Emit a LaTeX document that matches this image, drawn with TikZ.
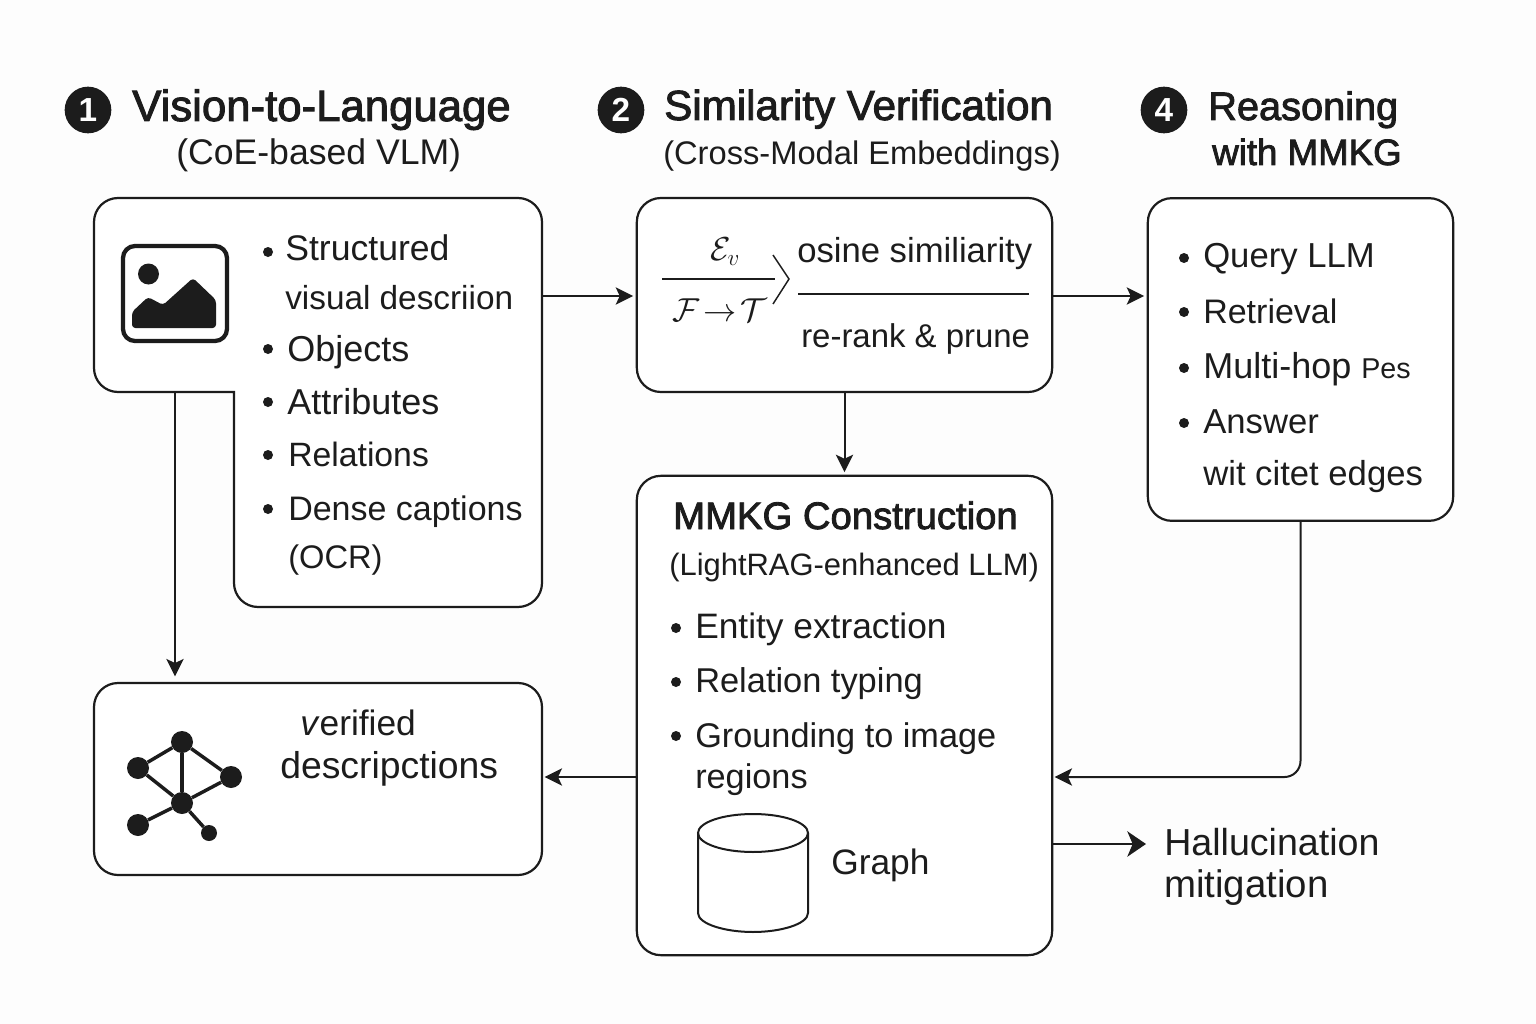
\documentclass[tikz,border=0pt]{standalone}
\usepackage{amsmath}
\usepackage{amssymb}
\usepackage{fontspec}
\setmainfont{Liberation Sans}
\newfontfamily\headfont[FakeBold=2.2]{Liberation Sans}
\usetikzlibrary{arrows.meta}
\definecolor{inkcol}{HTML}{1C1C1C}
\definecolor{pagecol}{HTML}{FDFDFD}

\begin{document}
\begin{tikzpicture}[x=0.75pt,y=0.75pt,yscale=-1,
	boxnode/.style={draw=inkcol,line width=1.65pt,fill=white,rounded corners=18pt,inner sep=0pt},
	flow/.style={draw=inkcol,line width=1.5pt,-{Stealth[length=13pt,width=13pt,inset=3pt]},shorten >=2pt},
	stepdot/.style={circle,fill=inkcol,inner sep=0pt,minimum size=35pt,text=white,font=\bfseries\fontsize{25}{25}\selectfont},
	headtext/.style={anchor=base west,inner sep=0pt,text=inkcol,font=\headfont\fontsize{31.6}{36}\selectfont},
	subtext/.style={anchor=base west,inner sep=0pt,text=inkcol,font=\fontsize{26}{30}\selectfont},
	itemtext/.style={anchor=base west,inner sep=0pt,text=inkcol,font=\fontsize{26}{30}\selectfont},
	bulletdot/.style={circle,fill=inkcol,inner sep=0pt,minimum size=7.5pt},
	graphdot/.style={circle,fill=inkcol,inner sep=0pt,minimum size=16.5pt},
	graphedge/.style={draw=inkcol,line width=2.6pt},
	]
	\useasboundingbox (0,0) rectangle (1536,1024);
	\fill[pagecol] (0,0) rectangle (1536,1024);

	%Headings
	\node[stepdot] (numa) at (88,110) {1};
	\node[headtext,font=\headfont\fontsize{32.8}{36}\selectfont] (heada) at (132,121) {Vision-to-Language};
	\node[subtext,font=\fontsize{26.7}{30}\selectfont] (suba) at (176,165) {(CoE-based VLM)};
	\node[stepdot] (numb) at (621,110) {2};
	\node[headtext] (headb) at (664,120) {Similarity Verification};
	\node[subtext,font=\fontsize{24.5}{30}\selectfont] (subb) at (663,165) {(Cross-Modal Embeddings)};
	\node[stepdot] (numd) at (1164,110) {4};
	\node[headtext,font=\headfont\fontsize{29.8}{36}\selectfont] (headd) at (1208,120) {Reasoning};
	\node[headtext,font=\headfont\fontsize{27.5}{36}\selectfont] (subd) at (1212,165) {with MMKG};

	%Shape: L-shaped box
	\draw[draw=inkcol,line width=1.65pt,fill=white,rounded corners=18pt] (320,198) -- (542,198) -- (542,607) -- (234,607) [sharp corners] -- (234,392) [rounded corners=18pt] -- (94,392) -- (94,198) -- cycle;
	\coordinate (boxaout) at (542,296);
	\coordinate (boxadown) at (175,392);
	%Image icon
	\draw[draw=inkcol,line width=3.2pt,rounded corners=9pt] (123,246) rectangle (227,341);
	\fill[inkcol] (148.5,274) circle (10.5);
	\fill[inkcol,rounded corners=2.5pt] (132,312) -- (148,297) -- (163,305) -- (193,278) -- (216,300) -- (216,328) -- (132,328) -- cycle;
	\node[bulletdot] (dota) at (268,252) {};
	\node[itemtext,font=\fontsize{26.7}{30}\selectfont] (texta) at (285,260) {Structured};
	\node[itemtext,font=\fontsize{25}{30}\selectfont] (textb) at (285,309) {visual descriion};
	\node[bulletdot] (dotb) at (268,349) {};
	\node[itemtext,font=\fontsize{27}{30}\selectfont] (textc) at (287,361) {Objects};
	\node[bulletdot] (dotc) at (268,402) {};
	\node[itemtext,font=\fontsize{27}{30}\selectfont] (textd) at (287,414) {Attributes};
	\node[bulletdot] (dotd) at (268,455) {};
	\node[itemtext,font=\fontsize{25.3}{30}\selectfont] (texte) at (288,466) {Relations};
	\node[bulletdot] (dote) at (268,509) {};
	\node[itemtext,font=\fontsize{25.5}{30}\selectfont] (textf) at (288,520) {Dense captions};
	\node[itemtext,font=\fontsize{24.5}{30}\selectfont] (textg) at (288,568) {(OCR)};

	%Similarity box
	\node[boxnode,minimum width=311.5pt,minimum height=145.5pt] (boxb) at (844.5,295) {};
	\node[inner sep=0pt,text=inkcol,font=\fontsize{26}{30}\selectfont] (enc) at (725,252) {$\mathcal{E}_v$};
	\coordinate (ruleal) at (662,279);
	\coordinate (ruleat) at (775,279);
	\draw[draw=inkcol,line width=1.1pt] (ruleal) -- (ruleat);
	\node[inner sep=0pt,text=inkcol,font=\fontsize{23}{30}\selectfont] (map) at (720,310) {$\mathcal{F}\!\rightarrow\!\mathcal{T}$};
	\draw[draw=inkcol,line width=1.1pt] (773,255) -- (789,279) -- (773,304);
	\node[itemtext,font=\fontsize{26}{30}\selectfont] (cosi) at (797,262) {osine similiarity};
	\coordinate (rulebl) at (798,294);
	\coordinate (rulebr) at (1029,294);
	\draw[draw=inkcol,line width=1.1pt] (rulebl) -- (rulebr);
	\node[itemtext,font=\fontsize{24.7}{30}\selectfont] (rera) at (801,347) {re-rank \& prune};

	%Reasoning box
	\node[boxnode,minimum width=229pt,minimum height=242pt] (boxd) at (1300.5,359.5) {};
	\node[bulletdot] (dotf) at (1184,258) {};
	\node[itemtext] (query) at (1203,267) {Query LLM};
	\node[bulletdot] (dotg) at (1184,312) {};
	\node[itemtext,font=\fontsize{25.5}{30}\selectfont] (retr) at (1203,323) {Retrieval};
	\node[bulletdot] (doth) at (1184,368) {};
	\node[itemtext,font=\fontsize{27}{30}\selectfont] (hop) at (1203,378) {Multi-hop {\fontsize{21.5}{30}\selectfont Pes}};
	\node[bulletdot] (doti) at (1184,423) {};
	\node[itemtext] (answ) at (1203,433) {Answer};
	\node[itemtext] (cite) at (1203,485) {wit citet edges};

	%Construction box
	\node[boxnode,minimum width=311.5pt,minimum height=359.5pt] (boxc) at (844.5,715.5) {};
	\node[headtext,font=\headfont\fontsize{28.7}{36}\selectfont] (headc) at (673,529) {MMKG Construction};
	\node[subtext,font=\fontsize{23.2}{30}\selectfont] (subc) at (669,575) {(LightRAG-enhanced LLM)};
	\node[bulletdot] (dotj) at (676,628) {};
	\node[itemtext,font=\fontsize{26.5}{30}\selectfont] (enti) at (695,638) {Entity extraction};
	\node[bulletdot] (dotk) at (676,682) {};
	\node[itemtext,font=\fontsize{25.8}{30}\selectfont] (rela) at (695,692) {Relation typing};
	\node[bulletdot] (dotl) at (676,736) {};
	\node[itemtext,font=\fontsize{25.7}{30}\selectfont] (grou) at (695,747) {Grounding to image};
	\node[itemtext,font=\fontsize{25.7}{30}\selectfont] (regi) at (695,788) {regions};
	%Shape: Can
	\draw[draw=inkcol,line width=1.5pt] (698,833) -- (698,913) .. controls (698,924) and (725,932) .. (753,932) .. controls (781,932) and (808,924) .. (808,913) -- (808,833);
	\draw[draw=inkcol,line width=1.5pt] (753,833) ellipse (55 and 19);
	\node[itemtext,font=\fontsize{26.5}{30}\selectfont] (graph) at (831,874) {Graph};

	%Verified box
	\node[boxnode,minimum width=336pt,minimum height=144pt] (boxe) at (318,779) {};
	\node[graphdot] (gtop) at (182,742) {};
	\node[graphdot] (gleft) at (138,768) {};
	\node[graphdot] (gright) at (231,777) {};
	\node[graphdot] (gmid) at (182,803) {};
	\node[graphdot] (glow) at (138,825) {};
	\node[graphdot,minimum size=12pt] (gend) at (209,833) {};
	\draw[graphedge] (gtop) -- (gleft);
	\draw[graphedge] (gtop) -- (gright);
	\draw[graphedge] (gtop) -- (gmid);
	\draw[graphedge] (gleft) -- (gmid);
	\draw[graphedge] (gright) -- (gmid);
	\draw[graphedge] (gmid) -- (glow);
	\draw[graphedge] (gmid) -- (gend);
	\node[itemtext,font=\fontsize{26.5}{30}\selectfont] (veri) at (300,735) {\textit{v}erified};
	\node[itemtext,font=\fontsize{28}{30}\selectfont] (desc) at (280,778) {descripctions};

	%Outcome label
	\node[itemtext,font=\fontsize{28.2}{30}\selectfont] (hall) at (1164,855) {Hallucination};
	\node[itemtext,font=\fontsize{28.8}{30}\selectfont] (miti) at (1164,897) {mitigation};

	%Straight Lines
	\draw[flow] (boxaout) -- (boxaout -| boxb.west);
	\draw[flow] (boxb.east |- boxaout) -- (boxaout -| boxd.west);
	\draw[flow] (boxb.south) -- (boxc.north);
	\coordinate (boxddown) at (1052,777);
	\draw[flow,rounded corners=12pt] (boxd.south) |- (boxddown);
	\coordinate (boxcleft) at (637,777);
	\coordinate (boxeright) at (542,777);
	\draw[flow] (boxcleft) -- (boxeright);
	\coordinate (boxetop) at (175,683);
	\draw[flow,shorten >=5pt] (boxadown) -- (boxetop);
	\coordinate (boxcright) at (1052,844);
	\coordinate (hallin) at (1146,844);
	\draw[flow,shorten >=0pt,-{Stealth[length=14pt,width=19pt,inset=4pt]}] (boxcright) -- (hallin);
\end{tikzpicture}
\end{document}
